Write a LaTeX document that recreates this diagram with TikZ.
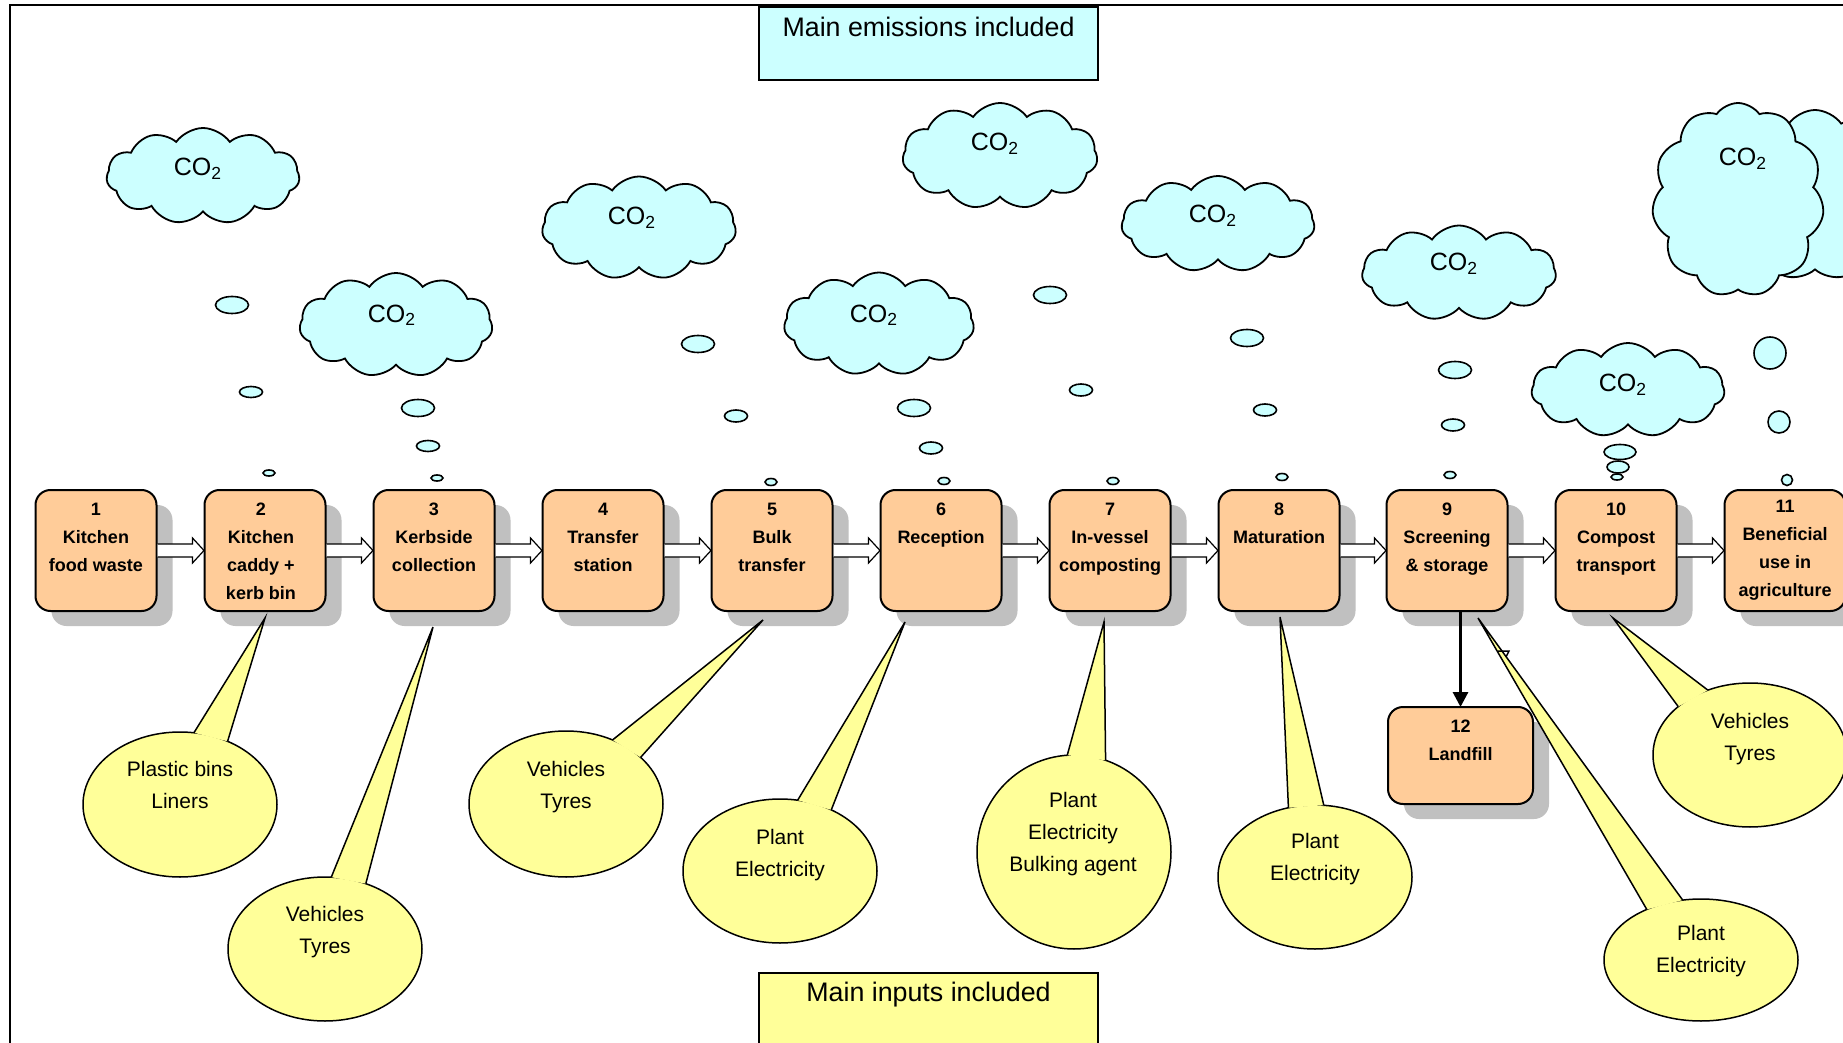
\documentclass[tikz,border=0pt]{standalone}
\usepackage{fontspec}
\setmainfont{Liberation Sans}
\usetikzlibrary{shapes.symbols,shapes.geometric,shadows,calc,arrows.meta}
\newdimen\pxu \pxu=0.5pt
\definecolor{peach}{HTML}{FFCC99}
\definecolor{lyellow}{HTML}{FFFF99}
\definecolor{lcyan}{HTML}{CCFFFF}
\definecolor{shgray}{HTML}{C0C0C0}
\tikzset{
 procbox/.style={rectangle, rounded corners=7.5pt, draw=black, line width=1pt, fill=peach,
   minimum width=60.5pt, minimum height=60.5pt, inner sep=0pt, outer sep=0pt,
   drop shadow={shadow xshift=8pt, shadow yshift=-7.5pt, fill=shgray, opacity=1}},
 boxtext/.style={anchor=north, align=center, font=\fontsize{9}{14}\selectfont\bfseries, inner sep=0pt},
 callout/.style={ellipse, draw=black, line width=0.75pt, fill=lyellow, inner sep=0pt, outer sep=0pt},
 ctext/.style={anchor=north, align=center, font=\fontsize{10.5}{16}\selectfont, inner sep=0pt},
 tailline/.style={draw=black, line width=0.75pt, line join=miter},
 cloudsh/.style={cloud, cloud puffs=11, cloud puff arc=110, cloud ignores aspect, draw=black,
   line width=0.9pt, fill=lcyan, inner sep=0pt, outer sep=0pt},
 cotext/.style={anchor=base, font=\fontsize{12.5}{15}\selectfont, inner sep=0pt},
 bub/.style={ellipse, draw=black, line width=0.8pt, fill=lcyan, inner sep=0pt, outer sep=0pt},
 barrow/.style={draw=black, line width=0.6pt, fill=white, line join=miter},
 titlebox/.style={rectangle, draw=black, line width=0.8pt, inner sep=0pt, outer sep=0pt},
 titletext/.style={anchor=base, font=\fontsize{13.4}{16}\selectfont, inner sep=0pt},
}
\newcommand\blkarrow[2]{%
  \filldraw[barrow] ($(#1.east)+(1,-6.5)$) -- ($(#2.west)+(-12,-6.5)$) -- ($(#2.west)+(-12,-12.5)$)
    -- ($(#2.west)+(-0.5,0)$) -- ($(#2.west)+(-12,12.5)$) -- ($(#2.west)+(-12,6.5)$) -- ($(#1.east)+(1,6.5)$);}
\newcommand\bubble[4]{\node[bub, minimum width=#3\pxu, minimum height=#4\pxu] (#1) at (#2) {};}
\begin{document}
\begin{tikzpicture}[x=0.5pt,y=-0.5pt]
\useasboundingbox (0,0) rectangle (1843,1043);
\clip (0,0) rectangle (1843,1043);
\fill[white] (0,0) rectangle (1843,1043);
% frame
\draw[line width=1pt] (10,1043) -- (10,5) -- (1843,5);

% title boxes
\node[titlebox, fill=lcyan, minimum width=169.5pt, minimum height=36.5pt] (emis) at (928.5,43.5) {};
\node[titletext] (emist) at (928.5,36.5) {Main emissions included};
\node[titlebox, fill=lyellow, minimum width=169.5pt, minimum height=40pt] (inp) at (928.5,1013) {};
\node[titletext] (inpt) at (928.5,1001) {Main inputs included};

% process boxes
\node[procbox] (b1) at (96,550.5) {};
\node[procbox] (b2) at (265,550.5) {};
\node[procbox] (b3) at (434,550.5) {};
\node[procbox] (b4) at (603,550.5) {};
\node[procbox] (b5) at (772,550.5) {};
\node[procbox] (b6) at (941,550.5) {};
\node[procbox] (b7) at (1110,550.5) {};
\node[procbox] (b8) at (1279,550.5) {};
\node[procbox] (b9) at (1447,550.5) {};
\node[procbox] (b10) at (1616,550.5) {};
\node[procbox] (b11) at (1785,550.5) {};
\node[procbox, minimum width=72.5pt, minimum height=48.5pt] (b12) at (1460.5,755.5) {};

\node[boxtext] (t1) at ($(b1.north)+(0,13)$) {1\\Kitchen\\food waste};
\node[boxtext] (t2) at ($(b2.north)+(-4,13)$) {2\\Kitchen\\caddy +\\kerb bin};
\node[boxtext] (t3) at ($(b3.north)+(0,13)$) {3\\Kerbside\\collection};
\node[boxtext] (t4) at ($(b4.north)+(0,13)$) {4\\Transfer\\station};
\node[boxtext] (t5) at ($(b5.north)+(0,13)$) {5\\Bulk\\transfer};
\node[boxtext] (t6) at ($(b6.north)+(0,13)$) {6\\Reception};
\node[boxtext] (t7) at ($(b7.north)+(0,13)$) {7\\In-vessel\\composting};
\node[boxtext] (t8) at ($(b8.north)+(0,13)$) {8\\Maturation};
\node[boxtext] (t9) at ($(b9.north)+(0,13)$) {9\\Screening\\\& storage};
\node[boxtext] (t10) at ($(b10.north)+(0,13)$) {10\\Compost\\transport};
\node[boxtext] (t11) at ($(b11.north)+(0,10)$) {11\\Beneficial\\use in\\agriculture};
\node[boxtext] (t12) at ($(b12.north)+(0,13)$) {12\\Landfill};

% block arrows
\blkarrow{b1}{b2}
\blkarrow{b2}{b3}
\blkarrow{b3}{b4}
\blkarrow{b4}{b5}
\blkarrow{b5}{b6}
\blkarrow{b6}{b7}
\blkarrow{b7}{b8}
\blkarrow{b8}{b9}
\blkarrow{b9}{b10}
\blkarrow{b10}{b11}

% landfill arrow
\draw[line width=1.5pt, -{Triangle[length=7.5pt,width=7.5pt]}] (b9.south -| b12.north) -- (b12.north);

% callouts
\node[callout, minimum width=97pt, minimum height=72.5pt] (cA) at (180,804.5) {};
\coordinate (tA) at (265,618);
\fill[lyellow] (tA) -- (cA.79.8) -- (cA.53.3) -- cycle;
\draw[tailline] (cA.79.8) -- (tA) -- (cA.53.3);
\node[ctext] at (180,760.5) {Plastic bins\\Liners};

\node[callout, minimum width=97pt, minimum height=72pt] (cB) at (325,949) {};
\coordinate (tB) at (433,627);
\fill[lyellow] (tB) -- (cB.85.3) -- (cB.58.2) -- cycle;
\draw[tailline] (cB.85.3) -- (tB) -- (cB.58.2);
\node[ctext] at (325,905.5) {Vehicles\\Tyres};

\node[callout, minimum width=97pt, minimum height=73pt] (cC) at (566,804) {};
\coordinate (tC) at (763,620);
\fill[lyellow] (tC) -- (cC.54.7) -- (cC.32.1) -- cycle;
\draw[tailline] (cC.54.7) -- (tC) -- (cC.32.1);
\node[ctext] at (566,760.5) {Vehicles\\Tyres};

\node[callout, minimum width=97pt, minimum height=72pt] (cD) at (780,871) {};
\coordinate (tD) at (905,622);
\fill[lyellow] (tD) -- (cD.76.5) -- (cD.50.1) -- cycle;
\draw[tailline] (cD.76.5) -- (tD) -- (cD.50.1);
\node[ctext] at (780,828.5) {Plant\\Electricity};

\node[callout, minimum width=97pt, minimum height=97pt] (cE) at (1074,852) {};
\coordinate (tE) at (1104,622);
\fill[lyellow] (tE) -- (cE.94.2) -- (cE.71.7) -- cycle;
\draw[tailline] (cE.94.2) -- (tE) -- (cE.71.7);
\node[ctext] at (1073,791.5) {Plant\\Electricity\\Bulking agent};

\node[callout, minimum width=97pt, minimum height=72pt] (cF) at (1315,877) {};
\coordinate (tF) at (1280,617);
\fill[lyellow] (tF) -- (cF.111.8) -- (cF.83.7) -- cycle;
\draw[tailline] (cF.111.8) -- (tF) -- (cF.83.7);
\node[ctext] at (1315,832.5) {Plant\\Electricity};

\node[callout, minimum width=97pt, minimum height=61pt] (cH) at (1701,960) {};
\coordinate (tH) at (1478,618);
\fill[lyellow] (tH) -- (cH.137.8) -- (cH.107.2) -- cycle;
\draw[tailline] (cH.137.8) -- (tH) -- (cH.107.2);
\node[ctext] at (1701,924.5) {Plant\\Electricity};
\draw[line width=0.75pt] (1498,651) -- (1509,651) -- (1506,657);

\node[callout, minimum width=97pt, minimum height=72pt] (cG) at (1750,755) {};
\coordinate (tG) at (1613,618);
\fill[lyellow] (tG) -- (cG.146.3) -- (cG.123.1) -- cycle;
\draw[tailline] (cG.146.3) -- (tG) -- (cG.123.1);
\node[ctext] at (1750,712.5) {Vehicles\\Tyres};

% clouds
\node[cloudsh, minimum width=96.5pt, minimum height=48pt] (k1) at (203,176) {};
\node[cotext] at (198,176) {CO\textsubscript{2}};
\node[cloudsh, minimum width=96.5pt, minimum height=52pt] (k2) at (396,325) {};
\node[cotext] at (392,322) {CO\textsubscript{2}};
\node[cloudsh, minimum width=97pt, minimum height=51.5pt] (k3) at (639,228) {};
\node[cotext] at (632,225) {CO\textsubscript{2}};
\node[cloudsh, minimum width=95pt, minimum height=51.5pt] (k4) at (879,324) {};
\node[cotext] at (874,322) {CO\textsubscript{2}};
\node[cloudsh, minimum width=97.5pt, minimum height=53pt] (k5) at (1000,156) {};
\node[cotext] at (995,151) {CO\textsubscript{2}};
\node[cloudsh, minimum width=96.5pt, minimum height=48pt] (k6) at (1218,224) {};
\node[cotext] at (1213,223) {CO\textsubscript{2}};
\node[cloudsh, minimum width=97pt, minimum height=47.5pt] (k7) at (1459,273) {};
\node[cotext] at (1454,271) {CO\textsubscript{2}};
\node[cloudsh, minimum width=96.5pt, minimum height=47pt] (k8) at (1628,390) {};
\node[cotext] at (1623,392) {CO\textsubscript{2}};
\node[cloudsh, minimum width=100pt, minimum height=85pt] (k9b) at (1815,195) {};
\node[cloudsh, minimum width=86pt, minimum height=97pt] (k9) at (1738,200) {};
\node[cotext] at (1743,166) {CO\textsubscript{2}};

% thought bubbles
\bubble{q1a}{232,305}{33}{17}
\bubble{q1b}{251,392}{23}{11}
\bubble{q1c}{269,473}{12}{6}
\bubble{q2a}{418,408}{33}{17}
\bubble{q2b}{428,446}{23}{11}
\bubble{q2c}{437,478}{12}{6}
\bubble{q3a}{698,344}{33}{17}
\bubble{q3b}{736,416}{23}{12}
\bubble{q3c}{771,482}{12}{7}
\bubble{q4a}{914,408}{33}{17}
\bubble{q4b}{931,448}{23}{12}
\bubble{q4c}{944,481}{12}{7}
\bubble{q5a}{1050,295}{33}{17}
\bubble{q5b}{1081,390}{23}{12}
\bubble{q5c}{1113,481}{12}{7}
\bubble{q6a}{1247,338}{33}{17}
\bubble{q6b}{1265,410}{23}{12}
\bubble{q6c}{1282,477}{12}{7}
\bubble{q7a}{1455,370}{33}{17}
\bubble{q7b}{1453,425}{23}{12}
\bubble{q7c}{1450,475}{12}{7}
\bubble{q8a}{1620,452}{32}{15}
\bubble{q8b}{1618,467}{22}{12}
\bubble{q8c}{1617,477}{12}{6}
\bubble{q9a}{1770,353}{32}{32}
\bubble{q9b}{1779,422}{22}{22}
\bubble{q9c}{1787,480}{11}{11}
\end{tikzpicture}
\end{document}
